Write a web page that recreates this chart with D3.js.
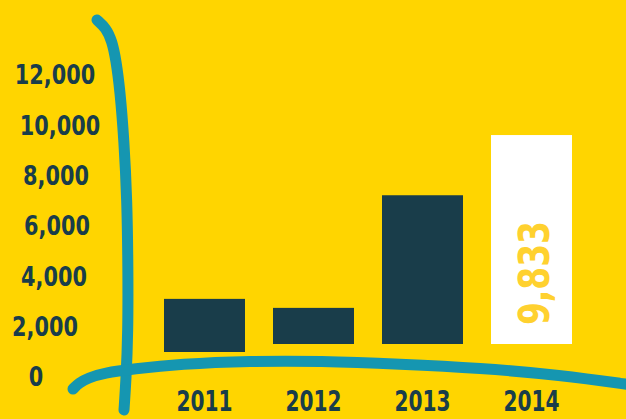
<!DOCTYPE html>
<html>
<head>
<meta charset="utf-8">
<script src="https://cdn.jsdelivr.net/npm/d3@7"></script>
<style>
  html, body { margin: 0; padding: 0; background: #ffd500; }
  svg { display: block; }
  text { font-family: "DejaVu Sans Condensed", "DejaVu Sans", sans-serif; font-stretch: condensed; }
</style>
</head>
<body>
<svg id="chart"></svg>
<script>
// data
const years = ["2011", "2012", "2013", "2014"];
const values = [2500, 1700, 7000, 9833];
const tickValues = [0, 2000, 4000, 6000, 8000, 10000, 12000];
const highlightYear = "2014";

// hand-drawn look: small offsets, kept apart from the data
const tickNudge = [-20, -11, -2, 1, 0, 4, -1];
const baselineShift = [8, 0, 0, 0];

const width = 626, height = 419;
const colors = {
  bg: "#ffd500",
  ink: "#193d4a",
  line: "#1596b1",
  highlight: "#ffffff",
  label: "#ffd12f"
};

const svg = d3.select("#chart")
  .attr("width", width)
  .attr("height", height);

svg.append("rect")
  .attr("width", width)
  .attr("height", height)
  .attr("fill", colors.bg);

// scales
const x = d3.scaleBand()
  .domain(years)
  .range([150, 586])
  .paddingInner(0.257)
  .paddingOuter(0.1285);

const yAxisScale = d3.scaleLinear().domain([0, 12000]).range([377, 75]);
const barHeight = d3.scaleLinear().domain([0, 12000]).range([0, 255]);
const barBase = 344;

// sketchy axis strokes
const sketch = d3.line().curve(d3.curveBasis);

const vLine = [[97, 20], [106, 28], [112, 41], [116, 60], [120, 90], [124, 140],
  [127, 200], [128, 267], [128, 333], [126, 380], [124, 410]];
const hLine = [[73, 389], [79, 383], [88, 378], [104, 373], [133, 369], [180, 364],
  [250, 361], [320, 361], [400, 364], [480, 368], [560, 375], [632, 385]];

svg.selectAll(".sketch")
  .data([vLine, hLine])
  .join("path")
  .attr("class", "sketch")
  .attr("d", sketch)
  .attr("fill", "none")
  .attr("stroke", colors.line)
  .attr("stroke-width", 11)
  .attr("stroke-linecap", "round")
  .attr("stroke-linejoin", "round");

// y tick labels (squeezed a little to look hand lettered)
svg.selectAll(".tick-label")
  .data(tickValues)
  .join("text")
  .attr("class", "tick-label")
  .attr("transform", (d, i) => `translate(${56 + tickNudge[i]},${yAxisScale(d)}) scale(0.89,1)`)
  .attr("dy", "0.36em")
  .attr("text-anchor", "middle")
  .attr("fill", colors.ink)
  .style("font-size", "26px")
  .style("font-weight", "bold")
  .text(d => d3.format(",")(d));

// bars
const bars = years.map((yr, i) => ({ year: yr, value: values[i], shift: baselineShift[i] }));

svg.selectAll(".bar")
  .data(bars)
  .join("rect")
  .attr("class", "bar")
  .attr("x", d => x(d.year))
  .attr("width", x.bandwidth())
  .attr("y", d => barBase + d.shift - barHeight(d.value))
  .attr("height", d => barHeight(d.value))
  .attr("fill", d => d.year === highlightYear ? colors.highlight : colors.ink);

// value label on highlighted bar
const hi = bars.find(d => d.year === highlightYear);
svg.append("text")
  .attr("class", "value-label")
  .attr("transform", `translate(${x(hi.year) + x.bandwidth() / 2 + 17},${barBase - 19}) rotate(-90) scale(0.87,1)`)
  .attr("text-anchor", "start")
  .attr("fill", colors.label)
  .style("font-size", "42px")
  .style("font-weight", "bold")
  .text(d3.format(",")(hi.value));

// year labels
svg.selectAll(".year-label")
  .data(years)
  .join("text")
  .attr("class", "year-label")
  .attr("transform", d => `translate(${x(d) + x.bandwidth() / 2},411) scale(0.8,1)`)
  .attr("text-anchor", "middle")
  .attr("fill", colors.ink)
  .style("font-size", "28px")
  .style("font-weight", "bold")
  .text(d => d);
</script>
</body>
</html>
